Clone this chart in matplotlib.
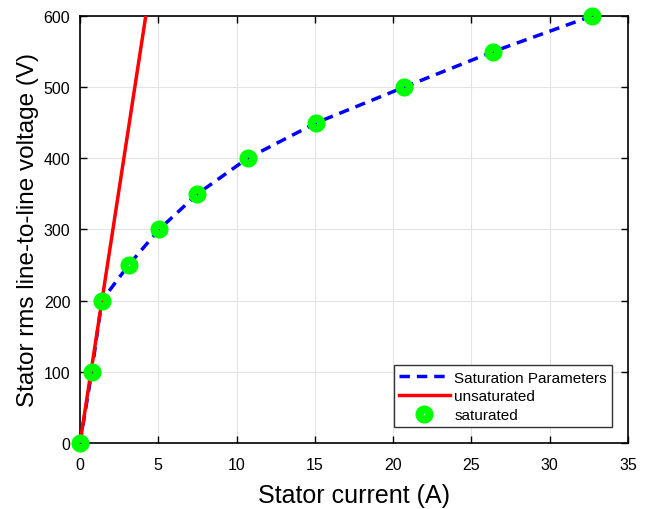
import numpy as np
import matplotlib.pyplot as plt

# saturation curve (A, V)
sat_current = [0.0, 0.75, 1.39, 3.1, 5.05, 7.5, 10.7, 15.1, 20.7, 26.4, 32.7]
sat_voltage = [0, 100, 200, 250, 300, 350, 400, 450, 500, 550, 600]

# unsaturated (air-gap) line
unsat_current = [0.0, 4.2]
unsat_voltage = [0, 600]

plt.rcParams['font.family'] = ['Liberation Sans', 'DejaVu Sans']

fig = plt.figure(figsize=(6.49, 5.10), dpi=100)
ax = fig.add_axes([0.1233, 0.1294, 0.9676 - 0.1233, 0.9667 - 0.1294])

ax.plot(sat_current, sat_voltage, '--', color='#0000ff', lw=2.5, dashes=(3, 2),
        label='Saturation Parameters', zorder=3)
ax.plot(unsat_current, unsat_voltage, '-', color='#ff0000', lw=2.5,
        label='unsaturated', zorder=4)
ax.plot(sat_current, sat_voltage, 'o', ms=7.2, mfc='none', mec='#00ff00', mew=5.8,
        label='saturated', zorder=5, clip_on=False)

ax.set_xlim(0, 35)
ax.set_ylim(0, 600)
ax.set_xticks(np.arange(0, 36, 5))
ax.set_yticks(np.arange(0, 601, 100))
ax.grid(True, color='#e3e3e3', lw=0.8)
ax.set_axisbelow(True)
ax.tick_params(direction='in', top=True, right=True, labelsize=11.5, length=5, width=1)
ax.tick_params(axis='x', pad=10)
ax.tick_params(axis='y', pad=7)
for s in ax.spines.values():
    s.set_linewidth(1.2)

ax.set_xlabel('Stator current (A)', fontsize=18, labelpad=8)
ax.set_ylabel('Stator rms line-to-line voltage (V)', fontsize=17.5, labelpad=3)

leg = ax.legend(loc='lower right', bbox_to_anchor=(0.971, 0.037), fontsize=11,
                fancybox=False, framealpha=1, edgecolor='#333333', handlelength=3.3,
                borderpad=0.35, labelspacing=0.3, handletextpad=0.3, borderaxespad=0)
leg.get_frame().set_linewidth(1.0)

fig.savefig('out.png', dpi=100)
